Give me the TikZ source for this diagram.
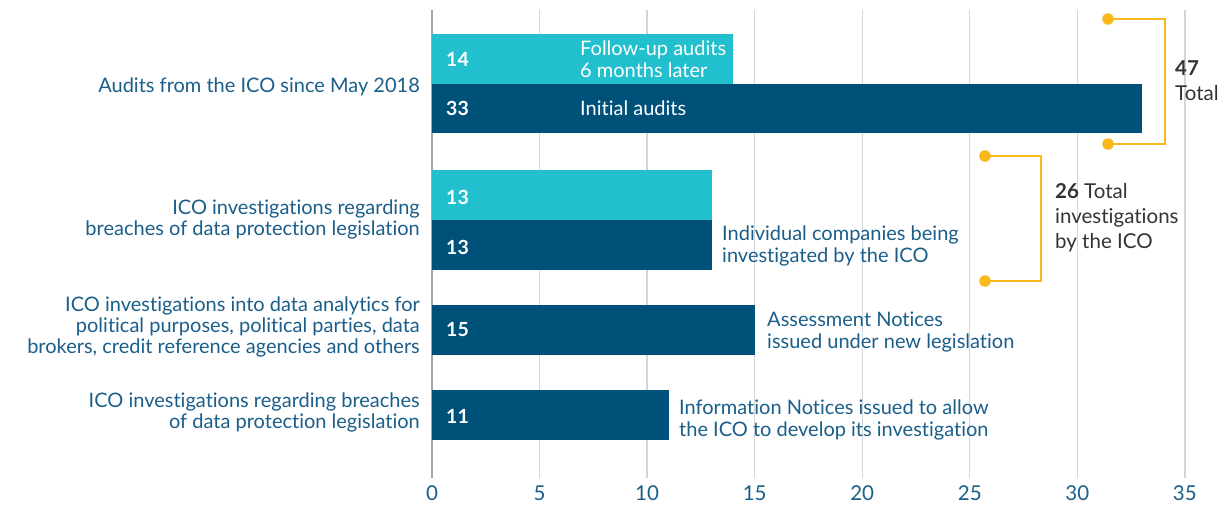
\documentclass[tikz,border=0pt]{standalone}
\usepackage{fontspec}
\setmainfont{Lato}[Ligatures=NoCommon]
\usetikzlibrary{positioning}
\definecolor{barlight}{HTML}{22BFCE}
\definecolor{bardark}{HTML}{00517A}
\definecolor{labelblue}{HTML}{1A5E89}
\definecolor{gridgray}{HTML}{D3D7DA}
\definecolor{axisgray}{HTML}{A3A6A9}
\definecolor{bracketyellow}{HTML}{FBB81B}
\definecolor{totalgray}{HTML}{333333}
\tikzset
{
    catlabel/.style   = {anchor=east, align=right, text=labelblue, inner sep=0pt, font=\fontsize{20}{21}\selectfont},
    barvalue/.style   = {anchor=west, text=white, inner sep=0pt, font=\fontsize{19.5}{21}\selectfont\bfseries},
    barnote/.style    = {anchor=west, align=left, inner sep=0pt, font=\fontsize{20}{22}\selectfont},
    ticklabel/.style  = {anchor=base, text=labelblue, inner sep=0pt, font=\fontsize{20.5}{21}\selectfont},
    bracketdot/.style = {circle, fill=bracketyellow, inner sep=0pt, minimum size=11.5pt},
    bracket/.style    = {draw=bracketyellow, line width=2.8pt},
    totallabel/.style = {anchor=west, align=left, text=totalgray, inner sep=0pt, font=\fontsize{20.5}{25}\selectfont}
}

\begin{document}
\begin{tikzpicture}[x=1pt, y=-1pt]
    \useasboundingbox (0,0) rectangle (1223,504);
    \def\unit{21.51}
    \foreach \v in {5,10,...,35}
    {
        \draw[gridgray, line width=1.3pt] ({432+\v*\unit},10) -- ({432+\v*\unit},478);
    }
    \draw[axisgray, line width=1.6pt] (432,10) -- (432,478);
    \foreach \v in {0,5,...,35}
    {
        \node[ticklabel] (tick\v) at ({432+\v*\unit},500) {\v};
    }

    \fill[barlight] (432,34) rectangle ({432+14*\unit},84);
    \fill[bardark] (432,84) rectangle ({432+33*\unit},133);
    \fill[barlight] (432,170) rectangle ({432+13*\unit},220);
    \fill[bardark] (432,220) rectangle ({432+13*\unit},270);
    \fill[bardark] (432,305) rectangle ({432+15*\unit},355);
    \fill[bardark] (432,390) rectangle ({432+11*\unit},440);

    \node[barvalue] (val14) at (446,59) {14};
    \node[barvalue] (val33) at (446,108) {33};
    \node[barvalue] (val13a) at (446,197) {13};
    \node[barvalue] (val13b) at (446,247) {13};
    \node[barvalue] (val15) at (446,330) {15};
    \node[barvalue] (val11) at (446,416) {11};

    \node[barnote, text=white] (followup) at (580,59) {Follow-up audits\\6 months later};
    \node[barnote, text=white] (initial) at (580,108) {Initial audits};
    \node[barnote, text=labelblue] (companies) at (722,246) {Individual companies being\\investigated by the ICO};
    \node[barnote, text=labelblue] (assessment) at (767,332) {Assessment Notices\\issued under new legislation};
    \node[barnote, text=labelblue] (information) at (679,420) {Information Notices issued to allow\\the ICO to develop its investigation};

    \node[catlabel] (audits) at (420,87) {Audits from the ICO since May 2018};
    \node[catlabel] (breaches) at (420,219) {ICO investigations regarding\\breaches of data protection legislation};
    \node[catlabel] (analytics) at (420,327) {ICO investigations into data analytics for\\political purposes, political parties, data\\brokers, credit reference agencies and others};
    \node[catlabel] (breachestwo) at (420,412) {ICO investigations regarding breaches\\of data protection legislation};

    \node[bracketdot] (top47) at (1108,19) {};
    \node[bracketdot] (bot47) at (1108,144) {};
    \draw[bracket] (top47.center) -- ++(57,0) |- (bot47.center);
    \node[bracketdot] (top26) at (985,156) {};
    \node[bracketdot] (bot26) at (985,281) {};
    \draw[bracket] (top26.center) -- ++(56,0) |- (bot26.center);

    \node[totallabel] (total47) at (1175,81) {\textbf{47}\\Total};
    \node[totallabel] (total26) at (1055,218) {\textbf{26} Total\\investigations\\by the ICO};
\end{tikzpicture}
\end{document}
